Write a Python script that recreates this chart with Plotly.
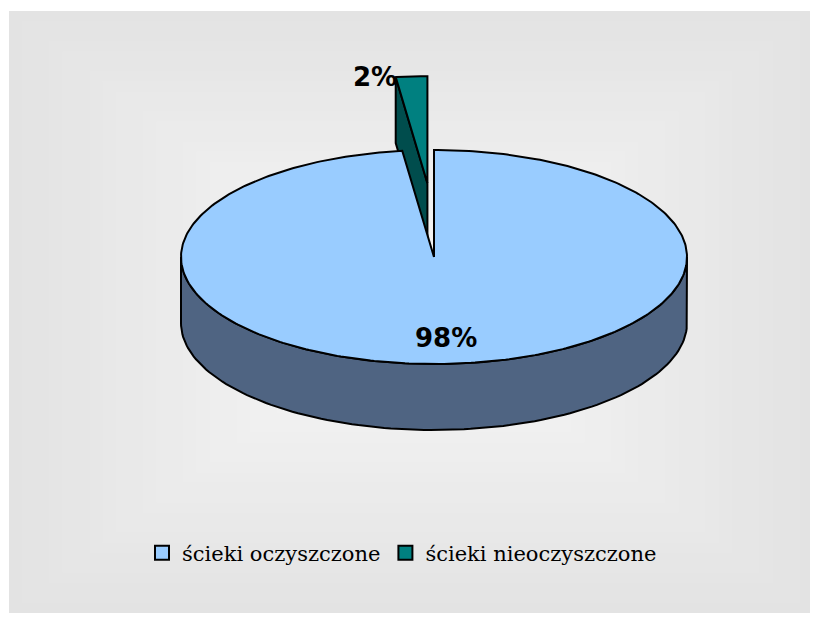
import numpy as np
import plotly.graph_objects as go

# ---- data ----
categories = ["ścieki oczyszczone", "ścieki nieoczyszczone"]
values = [98, 2]
top_colors = ["#99CCFF", "#008080"]
side_colors = ["#4F6482", "#004D4D"]
explode = [0.0, 0.69]

# ---- geometry (pixel space of the screenshot) ----
W, H = 818, 625
PAD = 8  # page body margin
CX, CY, RX, RY, DEPTH = 434, 257, 253, 107, 66
EXPLODE_X = 0.6  # horizontal foreshortening of explosion (perspective)
LW = 2


def rim(t_deg, off, z=0.0):
    t = np.radians(t_deg)
    return CX + off[0] + RX * np.cos(t), CY + off[1] - RY * np.sin(t) + z


def poly(xs, ys, color):
    return go.Scatter(x=list(xs) + [xs[0]], y=list(ys) + [ys[0]], mode="lines",
                      fill="toself", fillcolor=color,
                      line=dict(color="black", width=LW),
                      hoverinfo="skip", showlegend=False)


total = float(sum(values))
slices = []
start = 90.0
for i, v in enumerate(values):
    sweep = 360.0 * v / total
    a0, a1 = start, start - sweep
    mid = (a0 + a1) / 2
    e = explode[i]
    off = (RX * e * EXPLODE_X * np.cos(np.radians(mid)), -RY * e * np.sin(np.radians(mid)))
    slices.append(dict(a0=a0, a1=a1, mid=mid, off=off, pct=v / total))
    start = a1

fig = go.Figure()

# painter's order: back-most (smallest screen y offset) first
order = sorted(range(len(values)), key=lambda k: slices[k]["off"][1])
for k in order:
    s = slices[k]
    a0, a1, off = s["a0"], s["a1"], s["off"]
    cx, cy = CX + off[0], CY + off[1]
    # front side wall pieces (sin < 0 region)
    for kk in range(-3, 3):
        lo, hi = -180 + 360 * kk, 360 * kk
        t0, t1 = max(lo, a1), min(hi, a0)
        if t1 - t0 > 1e-6:
            ts = np.linspace(t0, t1, 120)
            xt, yt = rim(ts, off)
            xb, yb = rim(ts[::-1], off, DEPTH)
            fig.add_trace(poly(np.r_[xt, xb], np.r_[yt, yb], side_colors[k]))
    # visible cut faces
    for ang, vis in ((a0, np.cos(np.radians(a0))), (a1, -np.cos(np.radians(a1)))):
        if vis < -1e-9:
            rx_, ry_ = rim(ang, off)
            fig.add_trace(poly([cx, rx_, rx_, cx], [cy, ry_, ry_ + DEPTH, cy + DEPTH], side_colors[k]))
    # top face
    ts = np.linspace(a0, a1, 400)
    xt, yt = rim(ts, off)
    fig.add_trace(poly(np.r_[cx, xt], np.r_[cy, yt], top_colors[k]))

# legend entries
for i, c in enumerate(categories):
    fig.add_trace(go.Scatter(x=[None], y=[None], mode="markers", name=c,
                             marker=dict(symbol="square", size=14, color=top_colors[i],
                                         line=dict(color="black", width=2))))

# data labels
annos = []
s = slices[0]
lx, ly = rim(s["mid"], s["off"])
lx = CX + s["off"][0] + (lx - CX - s["off"][0]) * 0.76
ly = CY + s["off"][1] + (ly - CY - s["off"][1]) * 0.76
annos.append(dict(x=lx, y=ly, text="<b>%d%%</b>" % round(s["pct"] * 100), showarrow=False,
                  font=dict(family="DejaVu Sans", size=26, color="black"),
                  xanchor="center", yanchor="middle"))
s = slices[1]
lx, ly = rim(s["a0"], s["off"])
annos.append(dict(x=lx + 3, y=ly, text="<b>%d%%</b>" % round(s["pct"] * 100), showarrow=False,
                  font=dict(family="DejaVu Sans", size=26, color="black"),
                  xanchor="right", yanchor="middle"))

# background gradient (rectangular, from center)
shapes = []
X0, Y0, X1, Y1 = 9, 11, 813, 613
GX, GY = 410, 312
N = 30
for j in range(N):
    f = j / N
    g = int(round(227 + (248 - 227) * f))
    shapes.append(dict(type="rect", xref="x", yref="y", layer="below",
                       x0=X0 + (GX - X0) * f, x1=X1 - (X1 - GX) * f,
                       y0=Y0 + (GY - Y0) * f, y1=Y1 - (Y1 - GY) * f,
                       line=dict(width=0), fillcolor="rgb(%d,%d,%d)" % (g, g, g)))

fig.update_layout(
    width=W, height=H,
    margin=dict(l=0, r=0, t=0, b=0),
    paper_bgcolor="white", plot_bgcolor="rgba(0,0,0,0)",
    xaxis=dict(range=[PAD, W + PAD], visible=False, fixedrange=True),
    yaxis=dict(range=[H + PAD, PAD], visible=False, fixedrange=True),
    shapes=shapes, annotations=annos,
    showlegend=True,
    legend=dict(orientation="h", x=(402 - PAD) / W, xanchor="center",
                y=1 - (553 - PAD) / H, yanchor="middle",
                bgcolor="rgba(0,0,0,0)", font=dict(family="DejaVu Serif", size=21, color="black"),
                itemclick=False, itemdoubleclick=False),
)

fig.write_html("out.html")
